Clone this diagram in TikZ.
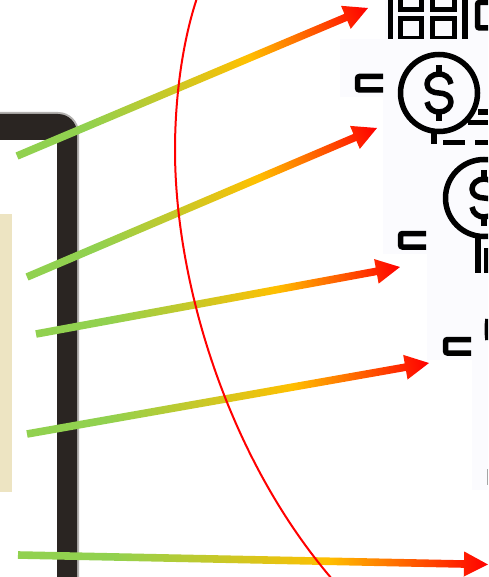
\documentclass[tikz,border=0pt]{standalone}
\usetikzlibrary{calc}
\pgfdeclarehorizontalshading{arrowgrad}{100bp}{rgb(0bp)=(.57,.82,.31); rgb(35bp)=(.57,.82,.31); rgb(58bp)=(1,.75,0); rgb(75bp)=(1,0,0); rgb(100bp)=(1,0,0)}
\definecolor{tile}{HTML}{FBFBFE}
\definecolor{frameDark}{HTML}{2A2522}
\definecolor{frameEdge}{HTML}{B4B2B0}
\definecolor{beige}{HTML}{EDE4C2}
\tikzset{
  icon/.style={draw=black,line width=5.5pt,line cap=butt},
  tilebox/.style={fill=tile,draw=none},
}
\newcommand{\gradarrow}[4]{%
  \pgfmathsetmacro\arrLen{veclen(#3-#1,#4-#2)}%
  \pgfmathsetmacro\arrAng{atan2(#2-#4,#3-#1)}%
  \begin{scope}[transform canvas={shift={(#1,#2)},rotate=\arrAng}]
    \shade[shading=arrowgrad] (0,-3.8) -- ({\arrLen-24},-3.8) -- ({\arrLen-24},-12.5) -- (\arrLen,0) -- ({\arrLen-24},12.5) -- ({\arrLen-24},3.8) -- (0,3.8) -- cycle;
  \end{scope}}
\newcommand{\coin}[2]{%
  \draw[icon] (#1,#2) circle (38.5);
  \draw[icon,line join=round] (#1+12,#2-9) .. controls (#1+11,#2-16) and (#1+5,#2-19) .. (#1,#2-19)
    .. controls (#1-7,#2-19) and (#1-12,#2-14) .. (#1-12,#2-9)
    .. controls (#1-12,#2-3) and (#1-6,#2) .. (#1,#2)
    .. controls (#1+6,#2) and (#1+12,#2+3) .. (#1+12,#2+9)
    .. controls (#1+12,#2+14) and (#1+7,#2+19) .. (#1,#2+19)
    .. controls (#1-5,#2+19) and (#1-11,#2+16) .. (#1-12,#2+9);
  \draw[icon] (#1,#2-28) -- (#1,#2-19) (#1,#2+19) -- (#1,#2+28);}
\newcommand{\tab}[2]{%
  \draw[icon,rounded corners=2pt] (#1+28,#2+2.5) -- (#1+2.5,#2+2.5) -- (#1+2.5,#2+16) -- (#1+28,#2+16);}
\begin{document}
\begin{tikzpicture}[x=1pt,y=-1pt]
\useasboundingbox (0,0) rectangle (488,577);
\clip (0,0) rectangle (488,577);
\fill[white] (0,0) rectangle (488,577);
% beige panel
\fill[beige] (0,214) rectangle (12,492);
% tablet frame
\fill[frameEdge] (0,112) -- (58,112) arc[start angle=270,end angle=360,radius=21] -- (79,577) -- (70,577) -- (70,140) -- (0,140) -- cycle;
\fill[frameDark] (0,114) -- (58,114) arc[start angle=270,end angle=360,radius=19] -- (77,577) -- (57,577) -- (57,140) -- (0,140) -- cycle;
% tiles
\fill[tilebox] (385,0) rectangle (488,39);
\fill[tilebox] (340,39) rectangle (488,97);
\fill[tilebox] (383,97) rectangle (488,254);
\fill[tilebox] (427,254) rectangle (488,360);
\fill[tilebox] (472,360) rectangle (488,490);
% top icon
\draw[icon] (390.5,0) -- (390.5,39);
\draw[icon] (400.5,18.5) rectangle (421.5,39);
\draw[icon] (432.5,18.5) rectangle (454.5,39);
\draw[icon] (400.5,-5) rectangle (421.5,9.5);
\draw[icon] (432.5,-5) rectangle (454.5,9.5);
\draw[icon] (465,0) -- (465,39);
\draw[icon,rounded corners=2pt] (488,2.5) -- (477.5,2.5) -- (477.5,28) -- (488,28);
\fill[tile] (340,39) rectangle (488,97);
% first coin
\tab{355}{74}
\coin{439}{93}
\draw[icon] (434,132) -- (434,144);
\draw[icon] (478,112) -- (488,112);
\draw[icon] (468,122.5) -- (488,122.5);
\draw[icon] (443,143) -- (465,143) (475,143) -- (488,143);
% second coin
\fill[tile] (383,145) rectangle (488,254);
\tab{398}{231}
\coin{484}{198}
\draw[icon] (478,238) -- (478,273);
\draw[icon] (487,248) -- (487,273);
% third tile
\fill[tile] (427,273) rectangle (488,360);
\tab{443}{337}
\draw[icon] (488,319) .. controls (487,326) and (487,332) .. (488,340);
% fourth tile
\fill[tile] (472,360) rectangle (488,490);
\fill[gray!70] (487,469) rectangle (488,485);
% arrows
\gradarrow{17}{156}{368}{8}
\gradarrow{27}{277}{377}{128}
\gradarrow{36}{334}{400}{267}
\gradarrow{27}{434}{429}{363}
\gradarrow{18}{555}{488}{564.5}
% red arc
\draw[red,line width=2pt] (197,-2) .. controls (183,40) and (175,95) .. (175,150) .. controls (175,280) and (226,455) .. (332,579);
\end{tikzpicture}
\end{document}
